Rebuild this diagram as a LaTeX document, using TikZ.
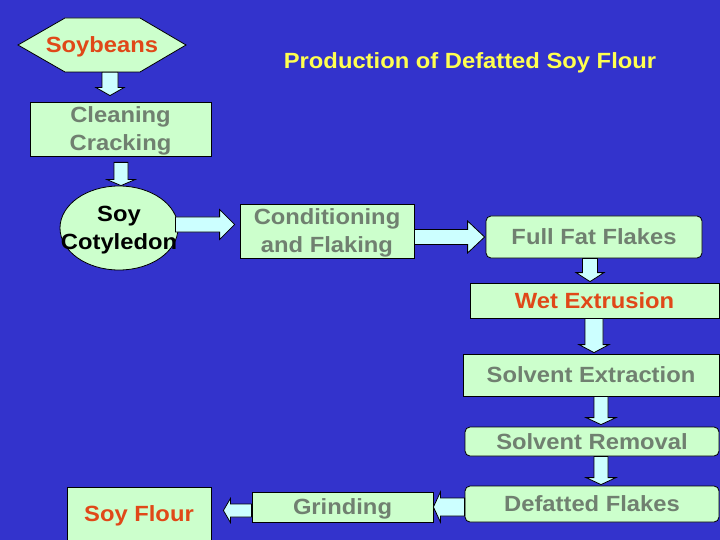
\documentclass[tikz,border=0pt]{standalone}
\usepackage{fontspec}
\setmainfont{Liberation Sans}[FakeStretch=1.08]
\usetikzlibrary{shapes.geometric,calc}
\definecolor{bgblue}{RGB}{51,51,204}
\definecolor{boxgreen}{RGB}{204,255,204}
\definecolor{arrowcyan}{RGB}{204,255,255}
\definecolor{txtgray}{RGB}{112,128,112}
\definecolor{txtred}{RGB}{224,72,24}
\definecolor{txtyellow}{RGB}{255,255,80}
\tikzset{
  boxnode/.style={draw=black, fill=boxgreen, line width=0.8pt, inner sep=0pt, align=center},
  graytxt/.style={text=txtgray},
  redtxt/.style={text=txtred},
  arrowbox/.style={draw=black, fill=arrowcyan, line width=0.8pt, line join=miter},
}
% vertical arrow: from, to, x, start gap, end gap, shaft half, head half, head length
\newcommand\varr[8]{%
\path[arrowbox] let \p1=(#1.south), \p2=(#2.north) in
 ({(#3-#6)*1pt},{\y1-(#4pt)}) -- ({(#3+#6)*1pt},{\y1-(#4pt)}) --
 ({(#3+#6)*1pt},{\y2+(#5pt)+(#8pt)}) -- ({(#3+#7)*1pt},{\y2+(#5pt)+(#8pt)}) --
 ({#3*1pt},{\y2+(#5pt)}) --
 ({(#3-#7)*1pt},{\y2+(#5pt)+(#8pt)}) -- ({(#3-#6)*1pt},{\y2+(#5pt)+(#8pt)}) -- cycle;}
% right arrow: from, to, y, start gap, end gap, shaft half, head half, head length
\newcommand\rarr[8]{%
\path[arrowbox] let \p1=(#1.east), \p2=(#2.west) in
 ({\x1+(#4pt)},{-(#3-#6)*1pt}) -- ({\x2-(#5pt)-(#8pt)},{-(#3-#6)*1pt}) --
 ({\x2-(#5pt)-(#8pt)},{-(#3-#7)*1pt}) -- ({\x2-(#5pt)},{-#3*1pt}) --
 ({\x2-(#5pt)-(#8pt)},{-(#3+#7)*1pt}) -- ({\x2-(#5pt)-(#8pt)},{-(#3+#6)*1pt}) --
 ({\x1+(#4pt)},{-(#3+#6)*1pt}) -- cycle;}
% left arrow
\newcommand\larr[8]{%
\path[arrowbox] let \p1=(#1.west), \p2=(#2.east) in
 ({\x1-(#4pt)},{-(#3-#6)*1pt}) -- ({\x2+(#5pt)+(#8pt)},{-(#3-#6)*1pt}) --
 ({\x2+(#5pt)+(#8pt)},{-(#3-#7)*1pt}) -- ({\x2+(#5pt)},{-#3*1pt}) --
 ({\x2+(#5pt)+(#8pt)},{-(#3+#7)*1pt}) -- ({\x2+(#5pt)+(#8pt)},{-(#3+#6)*1pt}) --
 ({\x1-(#4pt)},{-(#3+#6)*1pt}) -- cycle;}
\begin{document}
\begin{tikzpicture}[x=1pt,y=-1pt,
  every node/.append style={font=\fontsize{22}{28}\selectfont\bfseries, text depth=0pt}]
\fill[bgblue] (0,0) rectangle (720,540);
\useasboundingbox (0,0) rectangle (720,540);

% title
\node[text=txtyellow] (title) at (470,61) {Production of Defatted Soy Flour};

% Soybeans hexagon
\draw[fill=boxgreen, draw=black, line width=0.8pt] (18,45) -- (65,18) -- (140,18) -- (186,45) -- (140,72) -- (65,72) -- cycle;
\node[redtxt, minimum width=168pt, minimum height=54pt, inner sep=0pt] (sb) at (102,45) {Soybeans};

% nodes
\node[boxnode, graytxt, minimum width=181pt, minimum height=54pt] (cc) at (120.5,129) {Cleaning\\Cracking};
\node[boxnode, ellipse, minimum width=118pt, minimum height=84pt] (cot) at (119,228) {};
\node[text=black, align=center] at (cot.center) {Soy\\Cotyledon};
\node[boxnode, graytxt, minimum width=174pt, minimum height=54pt] (cf) at (327,231) {Conditioning\\and Flaking};
\node[boxnode, graytxt, rounded corners=5pt, minimum width=216pt, minimum height=42pt] (fff) at (594,237) {Full Fat Flakes};
\node[boxnode, redtxt, minimum width=249pt, minimum height=35pt] (we) at (594.5,300.5) {Wet Extrusion};
\node[boxnode, graytxt, minimum width=256pt, minimum height=42pt] (se) at (591,375) {Solvent Extraction};
\node[boxnode, graytxt, rounded corners=5pt, minimum width=254pt, minimum height=29pt] (sr) at (592,441.5) {Solvent Removal};
\node[boxnode, graytxt, rounded corners=5pt, minimum width=254pt, minimum height=36pt] (df) at (592,504) {Defatted Flakes};
\node[boxnode, graytxt, minimum width=181pt, minimum height=30pt] (gr) at (342.5,507) {Grinding};
\node[boxnode, minimum width=144pt, minimum height=58pt] (sf) at (139,516) {};
\node[redtxt] at (139,513.5) {Soy Flour};

% arrows
\varr{sb}{cc}{110}{0}{6}{8}{14}{8}
\varr{cc}{cot}{121}{6}{0}{7}{14}{6}
\rarr{cot}{cf}{224.5}{-3}{5}{7.5}{15}{15}
\rarr{cf}{fff}{237}{0}{1}{7.5}{16}{17}
\varr{fff}{we}{590}{0}{1}{7.5}{14}{9}
\varr{we}{se}{594}{0}{1}{9}{15}{8}
\varr{se}{sr}{601}{0}{2}{7}{15}{7}
\varr{sr}{df}{601}{0}{1}{7}{15}{7}
\larr{df}{gr}{507}{0}{0}{9}{15}{7}
\larr{gr}{sf}{510.5}{0}{12}{6.5}{12}{7}
\end{tikzpicture}
\end{document}
